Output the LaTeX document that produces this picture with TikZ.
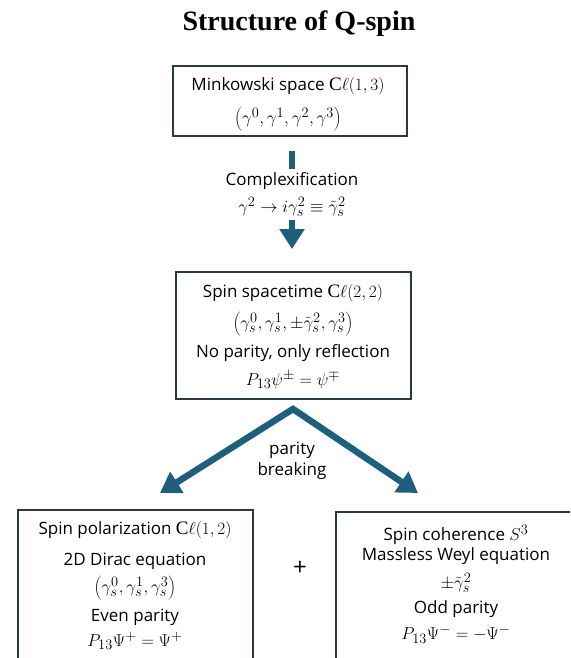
\documentclass[tikz,border=0pt]{standalone}
\usepackage{fontspec}
\setmainfont{Open Sans}
\newfontfamily\titlefont{Liberation Serif}
\usetikzlibrary{arrows.meta}
\definecolor{boxline}{HTML}{27394A}
\definecolor{flowblue}{HTML}{1E5F7E}
\newcommand{\mathbig}{\fontsize{19}{22}\selectfont}
\newcommand{\Cl}{\mbox{\titlefont C}\ell}

\begin{document}
\begin{tikzpicture}[x=1pt, y=-1pt,
    box/.style = {draw=boxline, line width=1.8pt, rectangle},
    txt/.style = {align=center, inner sep=1pt, font=\fontsize{17}{21}\selectfont},
    eq/.style = {inner sep=1pt, font=\mathbig},
    flow/.style = {draw=flowblue, line width=6.5pt},
    tip/.style = {-{Triangle[length=20pt, width=24pt]}}]
  \useasboundingbox (0,0) rectangle (570,658);
  \clip (0,0) rectangle (570,658);

  \node[font=\titlefont\bfseries\fontsize{28}{32}\selectfont] (title) at (299,24) {Structure of Q-spin};

  % Minkowski space
  \node[box, minimum width=234pt, minimum height=70pt] (mink) at (290,101) {};
  \node[txt] (mink1) at (288,86) {Minkowski space {\mathbig$\Cl(1,3)$}};
  \node[eq] (mink2) at (288,119) {$\left(\gamma^0,\gamma^1,\gamma^2,\gamma^3\right)$};

  \node[txt] (cplx) at (292,181) {Complexification};
  \node[eq] (cplxm) at (292,207) {$\gamma^2\to i\gamma_s^2\equiv\tilde\gamma_s^2$};

  % spin spacetime
  \node[box, minimum width=235pt, minimum height=127pt] (spin) at (293.5,335.5) {};
  \node[txt] (spin1) at (293,293) {Spin spacetime {\mathbig$\Cl(2,2)$}};
  \node[eq] (spin2) at (293,324) {$\left(\gamma_s^0,\gamma_s^1,\pm\tilde\gamma_s^2,\gamma_s^3\right)$};
  \node[txt] (spin3) at (293,353) {No parity, only reflection};
  \node[eq] (spin4) at (293,380) {$P_{13}\psi^\pm=\psi^\mp$};

  \node[txt] (brk) at (292,461) {parity\\breaking};

  % polarization
  \node[box, minimum width=235pt, minimum height=150pt] (pol) at (135.5,585) {};
  \node[txt] (pol1) at (135,530) {Spin polarization {\mathbig$\Cl(1,2)$}};
  \node[txt] (pol2) at (135,561) {2D Dirac equation};
  \node[eq] (pol3) at (135,588) {$\left(\gamma_s^0,\gamma_s^1,\gamma_s^3\right)$};
  \node[txt] (pol4) at (135,617) {Even parity};
  \node[eq] (pol5) at (135,641) {$P_{13}\Psi^+=\Psi^+$};

  % coherence
  \node[box, minimum width=240pt, minimum height=150pt] (coh) at (456,587) {};
  \node[txt] (coh1) at (456,535) {Spin coherence {\mathbig$S^3$}};
  \node[txt] (coh2) at (456,556) {Massless Weyl equation};
  \node[eq] (coh3) at (456,583) {$\pm\tilde\gamma_s^2$};
  \node[txt] (coh4) at (456,609) {Odd parity};
  \node[eq] (coh5) at (456,634) {$P_{13}\Psi^-=-\Psi^-$};

  \node[font=\fontsize{24}{26}\selectfont] (plus) at (300,568) {+};

  \coordinate (apex) at (293,409);
  \coordinate (polTip) at (160,493);
  \coordinate (cohTip) at (418,493);

  \draw[flow, shorten <=14pt, shorten >=2pt] (mink.south -| cplx) -- (cplx);
  \draw[flow, tip, shorten >=22pt, shorten <=2pt] (cplxm) -- (cplxm |- spin.north);
  \draw[flow, line join=miter, {Triangle[length=20pt, width=24pt]}-{Triangle[length=20pt, width=24pt]}]
    (polTip) -- (apex) -- (cohTip);
\end{tikzpicture}
\end{document}
